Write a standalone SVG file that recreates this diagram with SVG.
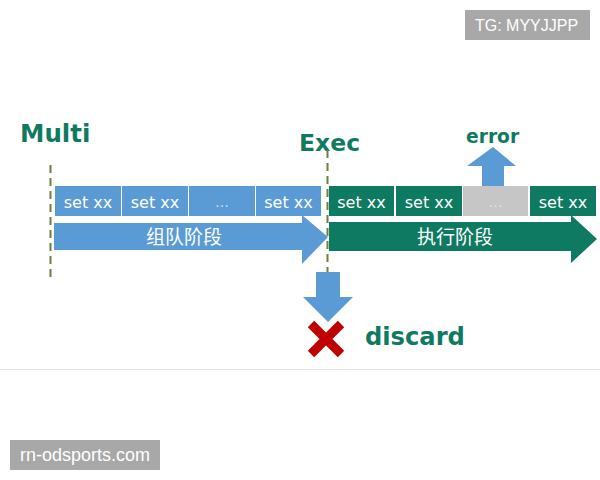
<svg xmlns="http://www.w3.org/2000/svg" width="600" height="480" viewBox="0 0 600 480">
<style>
.title{font-family:"DejaVu Sans",Verdana,sans-serif;font-weight:bold;fill:#0f7a62}
.cmd{font-family:"DejaVu Sans",Verdana,sans-serif;font-size:16px;fill:#ffffff;text-anchor:middle}
.dots{font-family:"DejaVu Sans",sans-serif;font-size:14px;text-anchor:middle}
.blue{fill:#5b9bd5}
.green{fill:#0f7a62}
.cn{font-family:"Noto Sans CJK SC",sans-serif;font-size:19px;fill:#ffffff;text-anchor:middle}
.dash{stroke:#6e7f3e;stroke-width:2;stroke-dasharray:8 5;fill:none}
.wm{fill:#a8a8a8}
.wmt{font-family:"Liberation Sans",Arial,sans-serif;fill:#ffffff}
</style>
<rect width="600" height="480" fill="#ffffff"/>
<line x1="0" y1="369.5" x2="600" y2="369.5" stroke="#e2e2e2" stroke-width="1"/>

<g id="multi-label"><text class="title" x="20" y="142" font-size="24.5">Multi</text></g>
<g id="exec-label"><text class="title" x="299" y="150.5" font-size="23.5">Exec</text></g>

<g id="queue-phase">
  <polygon class="blue" points="54,223 302,223 302,215 328,237 302,264 302,250 54,250"/>
  <text class="cn" x="184" y="244">组队阶段</text>
</g>
<g id="queue-cmd1"><rect class="blue" x="55" y="186" width="66" height="30"/><text class="cmd" x="88" y="207.5">set xx</text></g>
<g id="queue-cmd2"><rect class="blue" x="122" y="186" width="66" height="30"/><text class="cmd" x="155" y="207.5">set xx</text></g>
<g id="queue-cmd3"><rect class="blue" x="189" y="186" width="66" height="30"/><text class="dots" x="222" y="207" fill="#c9dcef">…</text></g>
<g id="queue-cmd4"><rect class="blue" x="256" y="186" width="65" height="30"/><text class="cmd" x="288.5" y="207.5">set xx</text></g>

<g id="exec-phase">
  <polygon class="green" points="329,222 571,222 571,215 597,239 571,263 571,251 329,251"/>
  <text class="cn" x="455" y="244">执行阶段</text>
</g>
<g id="exec-cmd1"><rect class="green" x="329" y="186" width="65" height="30"/><text class="cmd" x="361.5" y="207.5">set xx</text></g>
<g id="exec-cmd2"><rect class="green" x="396" y="186" width="66" height="30"/><text class="cmd" x="429" y="207.5">set xx</text></g>
<g id="exec-cmd3"><rect x="463" y="186" width="65" height="30" fill="#c6c6c6"/><text class="dots" x="495.5" y="207" fill="#e2e2e2">…</text></g>
<g id="exec-cmd4"><rect class="green" x="530" y="186" width="66" height="30"/><text class="cmd" x="563" y="207.5">set xx</text></g>

<g id="error-label"><text class="title" x="466" y="143" font-size="18.7">error</text></g>
<g id="discard-label"><text class="title" x="365" y="345" font-size="24.2">discard</text></g>
<g id="discard-x">
  <line x1="311" y1="324" x2="341" y2="354" stroke="#c00000" stroke-width="9"/>
  <line x1="341" y1="324" x2="311" y2="354" stroke="#c00000" stroke-width="9"/>
</g>

<g id="connectors">
  <polygon class="blue" points="482,186 482,166 467,166 493,147 516,166 504,166 504,186"/>
  <polygon class="blue" points="316,272 340,272 340,297 353,297 328,322 303,297 316,297"/>
  <line class="dash" x1="50.5" y1="165" x2="50.5" y2="282"/>
  <line class="dash" x1="327.5" y1="150" x2="327.5" y2="272"/>
</g>

<g id="watermark-tg"><rect class="wm" x="465" y="10" width="125" height="30"/><text class="wmt" x="475" y="31" font-size="16">TG: MYYJJPP</text></g>
<g id="watermark-site"><rect class="wm" x="10" y="440" width="150" height="30"/><text class="wmt" x="20" y="461" font-size="18">rn-odsports.com</text></g>
</svg>
